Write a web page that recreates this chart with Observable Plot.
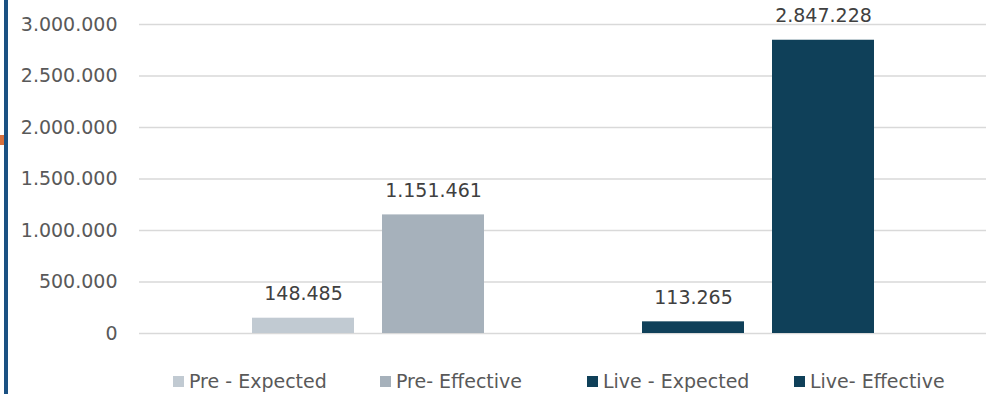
<!DOCTYPE html>
<html>
<head>
<meta charset="utf-8">
<script src="https://cdn.jsdelivr.net/npm/d3@7"></script>
<script src="https://cdn.jsdelivr.net/npm/@observablehq/plot@0.6"></script>
<style>
  html, body { margin: 0; padding: 0; background: #ffffff; }
  #wrap { position: relative; width: 986px; height: 394px; overflow: hidden; }
  .edge-rule { position: absolute; left: 4px; top: 0; width: 4px; height: 394px; background: #1b5182; }
  .edge-tab { position: absolute; left: 0; top: 135px; width: 4px; height: 10px; background: #d9703c; }
  #legend { position: absolute; left: 0; top: 366px; width: 986px; }
  #legend span[class$="-swatch"] {
    width: 207px; margin-right: 0 !important; flex: none;
  }
  #legend span[class$="-swatch"] svg { margin-right: 5px !important; }
  #legend div[class*="-swatches"] { margin-left: 173px; min-height: 30px; flex-wrap: nowrap; }
</style>
</head>
<body>
<div id="wrap">
  <div id="chart"></div>
  <div id="legend"></div>
  <div class="edge-rule"></div>
  <div class="edge-tab"></div>
</div>
<script>
// Series, values and colours
const series = ["Pre - Expected", "Pre- Effective", "Live - Expected", "Live- Effective"];
const values = [148485, 1151461, 113265, 2847228];
const colors = ["#c1cad2", "#a6b1bb", "#0f4059", "#0f4059"];
const yTicks = [0, 500000, 1000000, 1500000, 2000000, 2500000, 3000000];

// Pre and Live clusters are separated by one empty slot
const xDomain = [series[0], series[1], "", series[2], series[3]];

const rows = series.map((s, i) => ({series: s, value: values[i]}));

const fmt = d3.formatLocale({decimal: ",", thousands: ".", grouping: [3], currency: ["", ""]}).format(",d");

const font = "'DejaVu Sans', sans-serif";

const chart = Plot.plot({
  width: 986,
  height: 350,
  marginLeft: 139,
  marginRight: 0,
  marginTop: 24,
  marginBottom: 17,
  style: {fontFamily: font, fontSize: "19px", background: "transparent"},
  x: {domain: xDomain, paddingInner: 0.217, paddingOuter: 0.86, axis: null},
  y: {domain: [0, 3000000], ticks: yTicks, tickFormat: fmt, tickSize: 0, tickPadding: 22, label: null},
  color: {domain: series, range: colors},
  marks: [
    Plot.ruleY(yTicks, {stroke: "#d9d9d9", strokeWidth: 1.5}),
    Plot.axisY({ticks: yTicks, tickFormat: fmt, tickSize: 0, tickPadding: 22, label: null, color: "#595959", fontSize: 19}),
    Plot.barY(rows, {x: "series", y: "value", fill: "series"}),
    Plot.text(rows, {
      x: "series", y: "value", text: d => fmt(d.value),
      lineAnchor: "bottom", dy: -18, fill: "#404040", fontSize: 19
    })
  ]
});
document.getElementById("chart").appendChild(chart);

const legend = chart.legend("color", {
  swatchSize: 11,
  style: {fontFamily: font, fontSize: "19px", color: "#595959"}
});
document.getElementById("legend").appendChild(legend);
</script>
</body>
</html>
